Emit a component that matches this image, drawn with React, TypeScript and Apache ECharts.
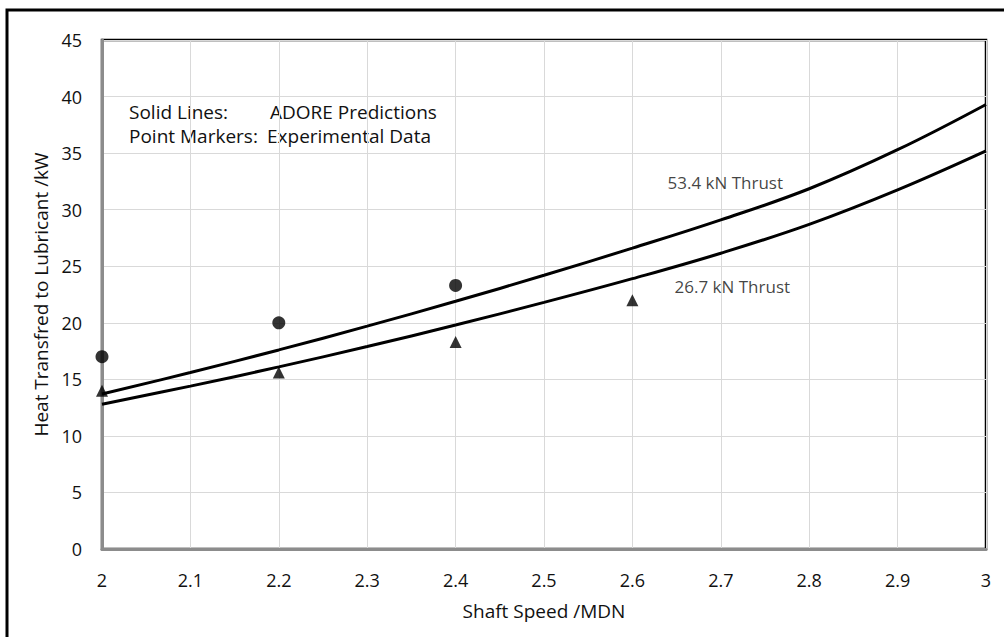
import React, { useEffect, useRef } from "react";
import * as echarts from "echarts";

// Shaft speed (MDN) at which the ADORE predictions are sampled
const speeds = [2.0, 2.1, 2.2, 2.3, 2.4, 2.5, 2.6, 2.7, 2.8, 2.9, 3.0];
// Predicted heat to lubricant (kW)
const pred534 = [13.7, 15.6, 17.6, 19.7, 21.9, 24.2, 26.6, 29.1, 31.85, 35.3, 39.3];
const pred267 = [12.8, 14.4, 16.1, 17.9, 19.8, 21.8, 23.9, 26.15, 28.7, 31.75, 35.2];

// Experimental measurements
const expSpeeds534 = [2.0, 2.2, 2.4];
const exp534 = [17.0, 20.0, 23.3];
const expSpeeds267 = [2.0, 2.2, 2.4, 2.6];
const exp267 = [14.0, 15.6, 18.3, 22.0];

// Axis ranges
const xRange = { min: 2, max: 3, interval: 0.1 };
const yRange = { min: 0, max: 45, interval: 5 };

// Curve labels, anchored in data coordinates
const curveLabels = [
  { text: "53.4 kN Thrust", at: [2.705, 32.4] },
  { text: "26.7 kN Thrust", at: [2.713, 23.2] },
];

const FONT = "'Open Sans', 'Noto Sans', sans-serif";
const INK = "#111111";

export default function App() {
  const ref = useRef<HTMLDivElement>(null);

  useEffect(() => {
    if (!ref.current) return;
    const chart = echarts.init(ref.current, undefined, { renderer: "svg" });

    const zip = (xs: number[], ys: number[]) => xs.map((x, i) => [x, ys[i]]);

    chart.setOption({
      animation: false,
      backgroundColor: "#ffffff",
      textStyle: { fontFamily: FONT },
      grid: {
        left: 102,
        right: 18,
        top: 40,
        bottom: 88,
        show: true,
        borderColor: "#000000",
        borderWidth: 2.5,
        backgroundColor: "transparent",
      },
      xAxis: {
        type: "value",
        ...xRange,
        name: "Shaft Speed /MDN",
        nameLocation: "middle",
        nameGap: 52,
        nameTextStyle: { fontSize: 19, color: INK, fontFamily: FONT },
        axisLine: { show: true, onZero: false, lineStyle: { color: "#8c8c8c", width: 3 } },
        axisTick: { show: false },
        axisLabel: {
          margin: 22,
          fontSize: 18,
          color: INK,
          fontFamily: FONT,
          formatter: (v: number) => String(+v.toFixed(1)),
        },
        splitLine: { show: true, lineStyle: { color: "#d9d9d9", width: 1 } },
      },
      yAxis: {
        type: "value",
        ...yRange,
        name: "Heat Transfred to Lubricant /kW",
        nameLocation: "middle",
        nameRotate: 90,
        nameGap: 50,
        nameTextStyle: { fontSize: 19, color: INK, fontFamily: FONT },
        axisLine: { show: true, onZero: false, lineStyle: { color: "#8c8c8c", width: 3 } },
        axisTick: { show: false },
        axisLabel: { margin: 20, fontSize: 18, color: INK, fontFamily: FONT },
        splitLine: { show: true, lineStyle: { color: "#d9d9d9", width: 1 } },
      },
      series: [
        {
          name: "53.4 kN Thrust prediction",
          type: "line",
          data: zip(speeds, pred534),
          smooth: 0.4,
          symbol: "none",
          lineStyle: { color: "#000", width: 3 },
          z: 3,
        },
        {
          name: "26.7 kN Thrust prediction",
          type: "line",
          data: zip(speeds, pred267),
          smooth: 0.4,
          symbol: "none",
          lineStyle: { color: "#000", width: 3 },
          z: 3,
        },
        {
          name: "53.4 kN Thrust experiment",
          type: "scatter",
          data: zip(expSpeeds534, exp534),
          symbol: "circle",
          symbolSize: 13,
          itemStyle: { color: "#000" },
          z: 4,
        },
        {
          name: "26.7 kN Thrust experiment",
          type: "scatter",
          data: zip(expSpeeds267, exp267),
          symbol: "triangle",
          symbolSize: 12,
          itemStyle: { color: "#000" },
          z: 4,
        },
        {
          name: "curve labels",
          type: "scatter",
          data: curveLabels.map((l) => ({ value: l.at, name: l.text })),
          symbolSize: 0,
          silent: true,
          label: {
            show: true,
            position: "inside",
            formatter: (p: any) => p.name,
            fontSize: 17,
            color: INK,
            fontFamily: FONT,
          },
          z: 5,
        },
      ],
      graphic: [
        {
          type: "rect",
          shape: { x: 7, y: 10, width: 1100, height: 700 },
          style: { fill: "none", stroke: "#000", lineWidth: 3 },
          silent: true,
        },
        {
          type: "text",
          x: 129,
          y: 112,
          style: { text: "Solid Lines:", font: `19px ${FONT}`, fill: INK, verticalAlign: "middle" },
        },
        {
          type: "text",
          x: 270,
          y: 112,
          style: { text: "ADORE Predictions", font: `19px ${FONT}`, fill: INK, verticalAlign: "middle" },
        },
        {
          type: "text",
          x: 129,
          y: 136,
          style: { text: "Point Markers:", font: `19px ${FONT}`, fill: INK, verticalAlign: "middle" },
        },
        {
          type: "text",
          x: 267,
          y: 136,
          style: { text: "Experimental Data", font: `19px ${FONT}`, fill: INK, verticalAlign: "middle" },
        },
      ],
    });

    return () => chart.dispose();
  }, []);

  return (
    <div
      ref={ref}
      style={{ position: "absolute", left: 0, top: 0, width: 1004, height: 637 }}
    />
  );
}
